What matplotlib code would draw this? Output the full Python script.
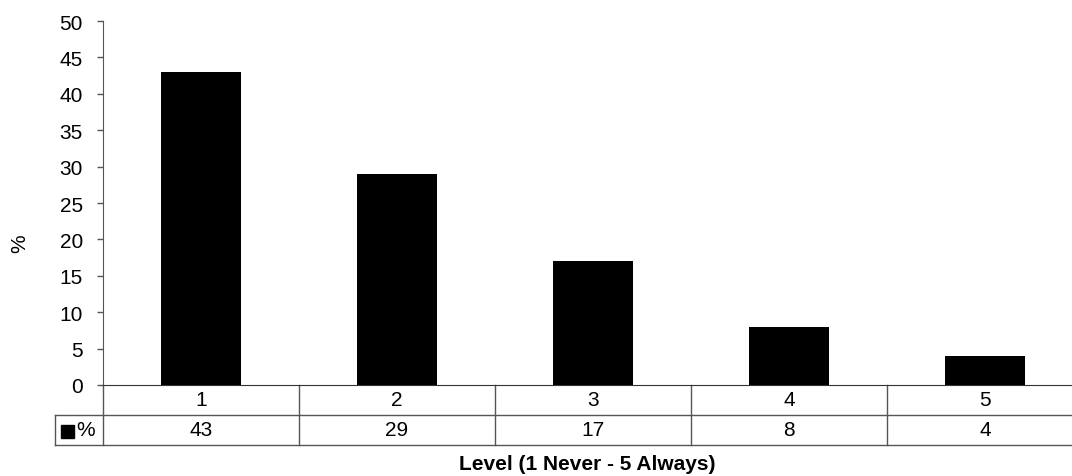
import matplotlib
matplotlib.use("Agg")
import matplotlib.pyplot as plt

# data
levels = ["1", "2", "3", "4", "5"]
percent = [43, 29, 17, 8, 4]
series_name = "%"
yticks = [0, 5, 10, 15, 20, 25, 30, 35, 40, 45, 50]

plt.rcParams["font.family"] = ["Liberation Sans", "DejaVu Sans"]
FS = 15

W, H = 1072, 477
fig = plt.figure(figsize=(W / 100, H / 100), dpi=100)

# axes placed in pixels (right edge runs past the image, as in the reference)
left, right, top, bottom = 103, 1083, 22, 386
ax = fig.add_axes([left / W, 1 - bottom / H, (right - left) / W, (bottom - top) / H])

x = list(range(len(levels)))
ax.bar(x, percent, width=0.41, color="black", zorder=3)
ax.set_xlim(-0.5, len(levels) - 0.5)
ax.set_ylim(0, 50)
ax.set_yticks(yticks)
ax.tick_params(axis="y", length=4.5, width=1, color="#555555", labelsize=FS, pad=10)
ax.set_xticks([])
for s in ["top", "right"]:
    ax.spines[s].set_visible(False)
ax.spines["left"].set_color("#555555")
ax.spines["bottom"].set_color("#333333")

# data table below the axes, in pixel-based offsets
px = (right - left) / len(levels)  # pixels per category
line_c = "#555555"

def ypix(p):
    # pixel row -> data y
    return (bottom - p) * 50 / (bottom - top)

def xpix(p):
    return (p - left) / px - 0.5

r0, r1, r2 = ypix(386), ypix(416), ypix(446)
legend_left = xpix(55)
kw = dict(color=line_c, lw=1, clip_on=False)
ax.plot([legend_left, 4.7], [r1, r1], **kw)
ax.plot([legend_left, 4.7], [r2, r2], **kw)
ax.plot([legend_left, legend_left], [r1, r2], **kw)
for b in range(len(levels)):
    ax.plot([b - 0.5, b - 0.5], [r0, r2], **kw)

for i, (lab, val) in enumerate(zip(levels, percent)):
    ax.text(i, (r0 + r1) / 2, lab, ha="center", va="center", fontsize=FS)
    ax.text(i, (r1 + r2) / 2, str(val), ha="center", va="center", fontsize=FS)

# legend key in table
ax.text(xpix(86), (r1 + r2) / 2, series_name, ha="center", va="center", fontsize=FS)
ax.add_patch(plt.Rectangle((xpix(61), ypix(439)), 13 / px, ypix(426) - ypix(439),
                           color="black", clip_on=False))

fig.text(20 / W, 1 - 244 / H, "%", rotation=90, ha="center", va="center", fontsize=FS)
fig.text(587 / W, 1 - 465 / H, "Level (1 Never - 5 Always)", ha="center", va="center",
         fontsize=FS, fontweight="bold")

fig.savefig("out.png", dpi=100)
